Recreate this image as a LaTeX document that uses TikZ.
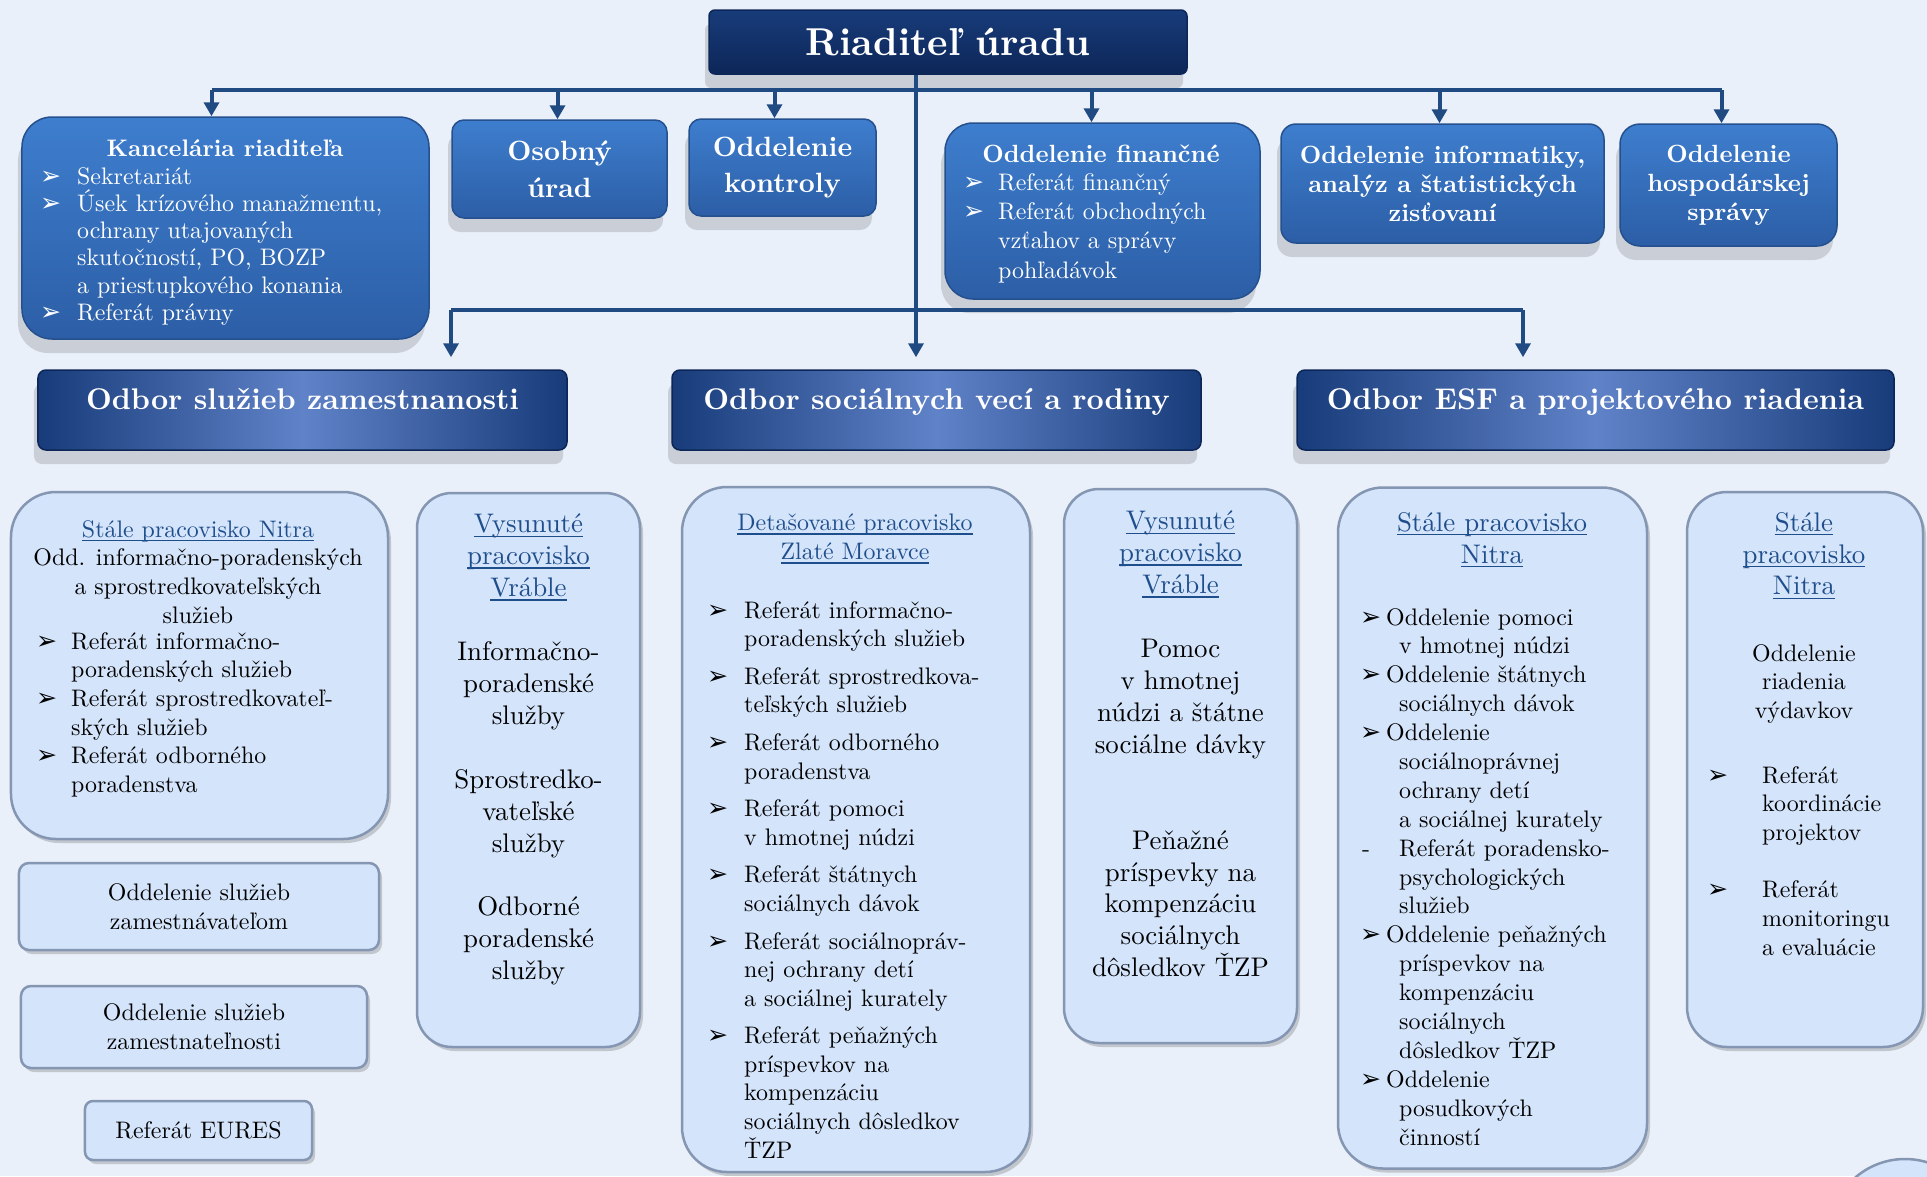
\documentclass[tikz,border=0pt]{standalone}
\usepackage{fontspec}
\setmainfont{lmroman10}[Extension=.otf, UprightFont=*-regular, BoldFont=*-bold,
    ItalicFont=*-italic, BoldItalicFont=*-bolditalic]
\newfontfamily\dejavu{DejaVu Sans}
\usetikzlibrary{arrows.meta, positioning, shadows}

\definecolor{bgc}{RGB}{234,240,250}
\definecolor{navy}{RGB}{24,60,122}
\definecolor{navyd}{RGB}{13,38,88}
\definecolor{medb}{RGB}{62,126,206}
\definecolor{medd}{RGB}{44,94,166}
\definecolor{odbl}{RGB}{96,130,200}
\definecolor{lboxc}{RGB}{212,228,250}
\definecolor{ledge}{RGB}{132,150,178}
\definecolor{connc}{RGB}{31,74,130}
\definecolor{ttl}{RGB}{31,78,140}

\newsavebox{\utlbox}
\newcommand{\bul}{\scalebox{1.05}{\dejavu ➢}}
\newcommand{\blt}[2][36bp]{\makebox[#1][l]{\bul}#2}
\newcommand{\cnl}[2][36bp]{\hspace*{#1}#2}
\newcommand{\utl}[1]{{\color{ttl}\sbox{\utlbox}{#1}\rlap{\rule[-4bp]{\wd\utlbox}{1.4bp}}\usebox{\utlbox}}}

\begin{document}
\begin{tikzpicture}[x=1bp, y=-1bp,
    topbox/.style={rectangle, rounded corners=6bp, draw=navyd, line width=1.5bp,
        top color=navy, bottom color=navyd, text=white,
        font=\fontsize{39}{46}\selectfont\bfseries,
        drop shadow={shadow xshift=-4bp, shadow yshift=-14bp, opacity=.2, fill=black!70}},
    depbox/.style={rectangle, draw=medd!85!black, line width=1.5bp,
        top color=medb, bottom color=medd, text=white, align=center,
        font=\fontsize{25}{29}\selectfont\bfseries,
        drop shadow={shadow xshift=-4bp, shadow yshift=-14bp, opacity=.2, fill=black!70}},
    odbbox/.style={rectangle, rounded corners=8bp, draw=navyd, line width=1.5bp,
        left color=navy, right color=navy, middle color=odbl, text=white,
        font=\fontsize{30}{36}\selectfont\bfseries, text depth=22bp,
        minimum height=80bp,
        drop shadow={shadow xshift=-4bp, shadow yshift=-14bp, opacity=.2, fill=black!70}},
    lbox/.style={rectangle, fill=lboxc, draw=ledge, line width=2.5bp,
        drop shadow={shadow xshift=3bp, shadow yshift=-4bp, opacity=.3, fill=black!60}},
    txt/.style={inner sep=0pt, font=\fontsize{24}{29}\selectfont},
    conline/.style={draw=connc, line width=4bp},
    arr/.style={-{Triangle[width=15bp,length=14bp]}}
]
    % Background and frame
    \fill[bgc] (0,0) rectangle (1927,1176);
    \useasboundingbox (0,0) rectangle (1927,1176);
    \clip (0,0) rectangle (1927,1176);

    % Director
    \node[topbox, minimum width=478bp, minimum height=64bp] (riad) at (948,42) {Riaditeľ úradu};

    % Departments under the director
    \node[depbox, rounded corners=30bp, minimum width=407bp, minimum height=222bp] (kanc) at (225.5,228) {};
    \node[txt, anchor=north, text=white, font=\fontsize{24}{29}\selectfont\bfseries] (kancT) at (225,139) {Kancelária riaditeľa};
    \node[txt, anchor=north west, align=left, text=white, font=\fontsize{24}{27.4}\selectfont] (kancL) at (40,167)
        {\blt[37bp]{Sekretariát}\\ \blt[37bp]{Úsek krízového manažmentu,}\\ \cnl[37bp]{ochrany utajovaných}\\
         \cnl[37bp]{skutočností, PO, BOZP}\\ \cnl[37bp]{a priestupkového konania}\\ \blt[37bp]{Referát právny}};

    \node[depbox, rounded corners=12bp, minimum width=215bp, minimum height=98bp,
        font=\fontsize{28}{37}\selectfont\bfseries] (osob) at (559.5,169) {Osobný\\úrad};
    \node[depbox, rounded corners=12bp, minimum width=187bp, minimum height=97bp,
        font=\fontsize{28}{37}\selectfont\bfseries] (kontr) at (782.5,167.5) {Oddelenie\\kontroly};

    \node[depbox, rounded corners=28bp, minimum width=315bp, minimum height=176bp] (fin) at (1102.5,211) {};
    \node[txt, anchor=north, text=white, font=\fontsize{25}{29}\selectfont\bfseries] (finT) at (1101,145) {Oddelenie finančné};
    \node[txt, anchor=north west, align=left, text=white, font=\fontsize{24}{29.5}\selectfont] (finL) at (963,173)
        {\blt[35bp]{Referát finančný}\\ \blt[35bp]{Referát obchodných}\\ \cnl[35bp]{vzťahov a správy}\\ \cnl[35bp]{pohľadávok}};

    \node[depbox, rounded corners=15bp, minimum width=323bp, minimum height=119bp] (info) at (1442.5,183.5)
        {Oddelenie informatiky,\\analýz a štatistických\\zisťovaní};
    \node[depbox, rounded corners=20bp, minimum width=217bp, minimum height=122bp] (hosp) at (1728.5,185)
        {Oddelenie\\hospodárskej\\správy};

    % Sections
    \node[odbbox, minimum width=529bp] (zamOdb) at (302.5,410) {Odbor služieb zamestnanosti};
    \node[odbbox, minimum width=529bp] (socOdb) at (936.5,410) {Odbor sociálnych vecí a rodiny};
    \node[odbbox, minimum width=597bp] (esfOdb) at (1595.5,410) {Odbor ESF a projektového riadenia};

    % Connectors
    \coordinate (trunk) at (916,0);
    \coordinate (busA) at (0,90);
    \coordinate (brL) at (451,310);
    \coordinate (brR) at (1523,310);
    \draw[conline, arr, shorten >=12bp] (trunk |- riad.south) -- (trunk |- socOdb.north);
    \draw[conline] ([xshift=-14bp]kanc.north |- busA) -- ([xshift=-7bp]hosp.north |- busA);
    \foreach \n/\dx in {kanc/-14,osob/-2,kontr/-8,fin/-11,info/-3,hosp/-7}
    {
    \draw[conline, arr] ([xshift=\dx bp]\n.north |- busA) -- ([xshift=\dx bp]\n.north);
    }
    \draw[conline] (brL) -- (brR);
    \draw[conline, arr, shorten >=12bp] (brL) -- (brL |- zamOdb.north);
    \draw[conline, arr, shorten >=12bp] (brR) -- (brR |- esfOdb.north);

    % Workplaces of the employment section
    \node[lbox, rounded corners=45bp, minimum width=377bp, minimum height=347bp] (nitraA) at (199.5,665.5) {};
    \node[txt, anchor=north, align=center] (nitraAt) at (198,520)
        {\utl{Stále pracovisko Nitra}\\ Odd. informačno-poradenských\\ a sprostredkovateľských\\ služieb};
    \node[txt, anchor=north west, align=left, font=\fontsize{24}{28.8}\selectfont] (nitraAl) at (36,632)
        {\blt[35bp]{Referát informačno-}\\ \cnl[35bp]{poradenských služieb}\\ \blt[35bp]{Referát sprostredkovateľ-}\\
         \cnl[35bp]{ských služieb}\\ \blt[35bp]{Referát odborného}\\ \cnl[35bp]{poradenstva}};

    \node[lbox, rounded corners=35bp, minimum width=223bp, minimum height=554bp] (vrabA) at (528.5,770) {};
    \node[txt, anchor=north, align=center, font=\fontsize{27}{32}\selectfont] (vrabAt) at (528.5,514)
        {\utl{Vysunuté}\\ \utl{pracovisko}\\ \utl{Vráble}\\[32bp] Informačno-\\ poradenské\\ služby\\[32bp]
         Sprostredko-\\ vateľské\\ služby\\[32bp] Odborné\\ poradenské\\ služby};

    \node[lbox, rounded corners=10bp, minimum width=360bp, minimum height=87bp] (zamv) at (199,906.5) {};
    \node[txt, align=center] (zamvt) at (zamv) {Oddelenie služieb\\ zamestnávateľom};
    \node[lbox, rounded corners=10bp, minimum width=346bp, minimum height=82bp] (zamt) at (194,1027) {};
    \node[txt, align=center] (zamtt) at (zamt) {Oddelenie služieb\\ zamestnateľnosti};
    \node[lbox, rounded corners=8bp, minimum width=227bp, minimum height=59bp] (eures) at (198.5,1130.5) {};
    \node[txt] (eurest) at (eures) {Referát EURES};

    % Workplaces of the social section
    \node[lbox, rounded corners=45bp, minimum width=348bp, minimum height=685bp] (zlate) at (856,829.5) {};
    \node[txt, anchor=north, align=center] (zlatet) at (855,514)
        {\utl{Detašované pracovisko}\\ \utl{Zlaté Moravce}};
    \node[txt, anchor=north west, align=left, font=\fontsize{24}{28.7}\selectfont] (zlatel) at (707,601)
        {\blt[37bp]{Referát informačno-}\\ \cnl[37bp]{poradenských služieb}\\[9bp]
         \blt[37bp]{Referát sprostredkova-}\\ \cnl[37bp]{teľských služieb}\\[9bp]
         \blt[37bp]{Referát odborného}\\ \cnl[37bp]{poradenstva}\\[9bp]
         \blt[37bp]{Referát pomoci}\\ \cnl[37bp]{v hmotnej núdzi}\\[9bp]
         \blt[37bp]{Referát štátnych}\\ \cnl[37bp]{sociálnych dávok}\\[9bp]
         \blt[37bp]{Referát sociálnopráv-}\\ \cnl[37bp]{nej ochrany detí}\\ \cnl[37bp]{a sociálnej kurately}\\[9bp]
         \blt[37bp]{Referát peňažných}\\ \cnl[37bp]{príspevkov na}\\ \cnl[37bp]{kompenzáciu}\\
         \cnl[37bp]{sociálnych dôsledkov}\\ \cnl[37bp]{ŤZP}};

    \node[lbox, rounded corners=35bp, minimum width=233bp, minimum height=554bp] (vrabB) at (1180.5,766) {};
    \node[txt, anchor=north, align=center, font=\fontsize{27}{32}\selectfont] (vrabBt) at (1180.5,511)
        {\utl{Vysunuté}\\ \utl{pracovisko}\\ \utl{Vráble}\\[32bp] Pomoc\\ v hmotnej\\ núdzi a štátne\\ sociálne dávky\\[64bp]
         Peňažné\\ príspevky na\\ kompenzáciu\\ sociálnych\\ dôsledkov ŤZP};

    \node[lbox, rounded corners=45bp, minimum width=309bp, minimum height=681bp] (nitraB) at (1492.5,828) {};
    \node[txt, anchor=north, align=center, font=\fontsize{27}{32}\selectfont] (nitraBt) at (1492,512)
        {\utl{Stále pracovisko}\\ \utl{Nitra}};
    \node[txt, anchor=north west, align=left, font=\fontsize{24}{29}\selectfont] (nitraBl) at (1360,608)
        {\blt[26bp]{Oddelenie pomoci}\\ \cnl[39bp]{v hmotnej núdzi}\\
         \blt[26bp]{Oddelenie štátnych}\\ \cnl[39bp]{sociálnych dávok}\\
         \blt[26bp]{Oddelenie}\\ \cnl[39bp]{sociálnoprávnej}\\ \cnl[39bp]{ochrany detí}\\ \cnl[39bp]{a sociálnej kurately}\\
         \makebox[39bp][l]{\hspace*{2bp}-}Referát poradensko-\\ \cnl[39bp]{psychologických}\\ \cnl[39bp]{služieb}\\
         \blt[26bp]{Oddelenie peňažných}\\ \cnl[39bp]{príspevkov na}\\ \cnl[39bp]{kompenzáciu}\\ \cnl[39bp]{sociálnych}\\
         \cnl[39bp]{dôsledkov ŤZP}\\
         \blt[26bp]{Oddelenie}\\ \cnl[39bp]{posudkových}\\ \cnl[39bp]{činností}};

    % Workplace of the ESF section
    \node[lbox, rounded corners=40bp, minimum width=236bp, minimum height=555bp] (nitraC) at (1805,769.5) {};
    \node[txt, anchor=north, align=center, font=\fontsize{27}{32}\selectfont] (nitraCt) at (1804,512)
        {\utl{Stále}\\ \utl{pracovisko}\\ \utl{Nitra}};
    \node[txt, anchor=north, align=center] (nitraCm) at (1804,644)
        {Oddelenie\\ riadenia\\ výdavkov};
    \node[txt, anchor=north west, align=left, font=\fontsize{24}{28.7}\selectfont] (nitraCl) at (1707,766)
        {\blt[55bp]{Referát}\\ \cnl[55bp]{koordinácie}\\ \cnl[55bp]{projektov}\\[29bp]
         \blt[55bp]{Referát}\\ \cnl[55bp]{monitoringu}\\ \cnl[55bp]{a evaluácie}};

    % Circle cut by the lower right corner
    \draw[fill=lboxc, draw=ledge, line width=2.5bp] (1905,1235) circle[radius=76bp];
\end{tikzpicture}
\end{document}
